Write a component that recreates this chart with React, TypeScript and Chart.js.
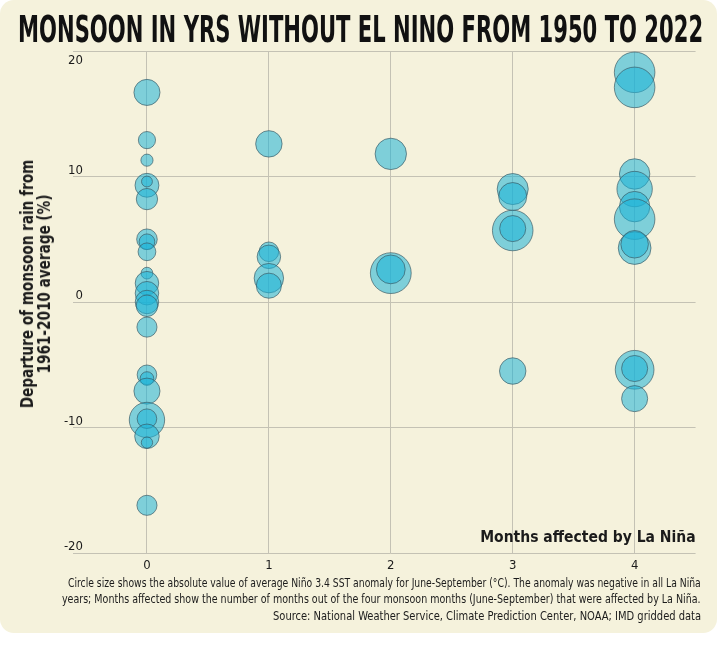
import React, { useEffect, useLayoutEffect, useRef, useState } from 'react';
import { Chart, registerables } from 'chart.js';

Chart.register(...registerables);

// ---------- texts ----------
const TITLE = 'MONSOON IN YRS WITHOUT EL NINO FROM 1950 TO 2022';
const Y_TITLE = ['Departure of monsoon rain from', '1961-2010 average (%)'];
const X_TITLE = 'Months affected by La Niña';
const NOTES = [
  'Circle size shows the absolute value of average Niño 3.4 SST anomaly for June-September (°C). The anomaly was negative in all La Niña',
  'years; Months affected show the number of months out of the four monsoon months (June-September) that were affected by La Niña.',
  'Source: National Weather Service, Climate Prediction Center, NOAA; IMD gridded data',
];

// ---------- axes ----------
const monthCategories = [0, 1, 2, 3, 4];
const yTickValues = [-20, -10, 0, 10, 20];

// ---------- data (one entry per year) ----------
// months of June-September affected by La Niña
const monthsAffected = [
  0, 0, 0, 0, 0, 0, 0, 0, 0, 0, 0, 0, 0, 0, 0, 0, 0, 0, 0, 0, 0, 0, 0,
  1, 1, 1, 1, 1,
  2, 2, 2,
  3, 3, 3, 3, 3,
  4, 4, 4, 4, 4, 4, 4, 4, 4, 4, 4,
];
// departure of monsoon rain from 1961-2010 average (%)
const rainDeparture = [
  16.7, 12.9, 11.3, 9.3, 9.6, 8.2, 5.0, 4.8, 4.0, 2.3, 1.5, 0.7, 0.0, -0.3, -2.0, -5.8, -6.1, -7.1, -9.4, -9.3, -10.7, -11.2, -16.2,
  12.6, 4.0, 3.6, 1.9, 1.3,
  11.8, 2.3, 2.6,
  9.0, 8.4, 5.7, 5.85, -5.5,
  18.3, 17.1, 10.2, 9.0, 7.6, 6.6, 4.3, 4.6, -5.4, -5.3, -7.7,
];
// absolute value of average Niño 3.4 SST anomaly, June-September (°C)
const sstAnomaly = [
  0.69, 0.30, 0.15, 0.58, 0.12, 0.46, 0.43, 0.25, 0.32, 0.14, 0.56, 0.56, 0.56, 0.47, 0.41, 0.39, 0.19, 0.69, 1.27, 0.39, 0.61, 0.13, 0.41,
  0.71, 0.39, 0.56, 0.88, 0.64,
  1.00, 1.69, 0.84,
  0.98, 0.80, 1.67, 0.69, 0.71,
  1.67, 1.67, 0.94, 1.27, 0.94, 1.67, 1.09, 0.77, 1.52, 0.69, 0.69,
];

// ---------- style ----------
const W = 717;
const H = 633;
const BG = '#f5f2dc';
const GRID = '#c4c2b4';
const FILL = 'rgba(28,178,215,0.55)';
const STROKE = 'rgba(55,85,95,0.65)';
const TEXT = '#1b1b1b';
const NARROW = "'Liberation Sans Narrow', 'DejaVu Sans Condensed', 'Arial Narrow', sans-serif";
const RADIUS_PER_SQRT_DEG = 15.7; // bubble area proportional to |anomaly|

function FitLine(props: {
  text: string;
  width: number;
  anchor: 'left' | 'right';
  style: React.CSSProperties;
}) {
  const { text, width, anchor, style } = props;
  const ref = useRef<HTMLSpanElement>(null);
  const [scale, setScale] = useState(1);
  useLayoutEffect(() => {
    const measure = () => {
      const el = ref.current;
      if (el && el.offsetWidth) setScale(width / el.offsetWidth);
    };
    measure();
    if ((document as any).fonts) (document as any).fonts.ready.then(measure);
  }, [text, width]);
  return (
    <span
      ref={ref}
      style={{
        position: 'absolute',
        whiteSpace: 'nowrap',
        transform: `scaleX(${scale})`,
        transformOrigin: anchor === 'right' ? 'right center' : 'left center',
        ...style,
      }}
    >
      {text}
    </span>
  );
}

function RotatedTitle(props: { lines: string[]; length: number; cx: number; cy: number }) {
  const { lines, length, cx, cy } = props;
  const ref = useRef<HTMLDivElement>(null);
  const [scale, setScale] = useState(1);
  useLayoutEffect(() => {
    const measure = () => {
      const el = ref.current;
      if (!el) return;
      const first = el.firstElementChild?.firstElementChild as HTMLElement | null;
      if (first && first.offsetWidth) setScale(length / first.offsetWidth);
    };
    measure();
    if ((document as any).fonts) (document as any).fonts.ready.then(measure);
  }, [lines, length]);
  return (
    <div
      ref={ref}
      style={{
        position: 'absolute',
        left: cx,
        top: cy,
        transform: `translate(-50%, -50%) rotate(-90deg) scaleX(${scale})`,
        fontFamily: NARROW,
        fontWeight: 'bold',
        fontSize: 17,
        lineHeight: '17px',
        color: TEXT,
        textAlign: 'center',
        whiteSpace: 'nowrap',
      }}
    >
      {lines.map((l, i) => (
        <div key={i} style={{ display: 'block' }}>
          <span style={{ display: 'inline-block' }}>{l}</span>
        </div>
      ))}
    </div>
  );
}

export default function App() {
  const canvasRef = useRef<HTMLCanvasElement>(null);

  useEffect(() => {
    const canvas = canvasRef.current;
    if (!canvas) return;
    const points = monthsAffected.map((m, i) => ({
      x: m,
      y: rainDeparture[i],
      r: RADIUS_PER_SQRT_DEG * Math.sqrt(sstAnomaly[i]),
    }));
    const tickFont = { family: NARROW, size: 13 };
    const chart = new Chart(canvas, {
      type: 'bubble',
      data: {
        datasets: [
          {
            data: points,
            backgroundColor: FILL,
            borderColor: STROKE,
            borderWidth: 1,
            hoverRadius: 0,
            clip: false,
          } as any,
        ],
      },
      options: {
        animation: false,
        responsive: false,
        events: [],
        layout: { padding: { left: 0, right: 18.5, top: 51, bottom: 40 } },
        plugins: {
          legend: { display: false },
          tooltip: { enabled: false },
        },
        scales: {
          x: {
            type: 'linear',
            min: -0.5,
            max: 4.5,
            afterBuildTicks: (axis: any) => {
              axis.ticks = monthCategories.map((v) => ({ value: v }));
            },
            afterFit: (axis: any) => {
              axis.height = 40;
            },
            grid: { color: GRID, lineWidth: 1, drawTicks: false },
            border: { display: false },
            ticks: {
              font: tickFont,
              color: TEXT,
              padding: 5,
              callback: (v: any) => String(v),
            },
            title: {
              display: true,
              text: X_TITLE,
              align: 'end',
              color: TEXT,
              font: { family: NARROW, size: 15.5, weight: 'bold' },
              padding: { top: 0, bottom: 45.7 },
            },
          },
          y: {
            type: 'linear',
            min: -20,
            max: 20,
            afterBuildTicks: (axis: any) => {
              axis.ticks = yTickValues.map((v) => ({ value: v }));
            },
            afterFit: (axis: any) => {
              axis.width = 86;
            },
            grid: { color: GRID, lineWidth: 1, drawTicks: true, tickLength: 13 },
            border: { display: false },
            ticks: {
              font: tickFont,
              color: TEXT,
              padding: -10,
              labelOffset: -6,
              callback: (v: any) => (v === 20 ? ['', '', '20'] : String(v)),
            },
          },
        },
      } as any,
    });
    return () => chart.destroy();
  }, []);

  return (
    <div
      style={{
        position: 'absolute',
        left: 0,
        top: 0,
        width: W,
        height: H,
        background: BG,
        borderRadius: 14,
        overflow: 'hidden',
        fontFamily: NARROW,
        color: TEXT,
      }}
    >
      <canvas
        ref={canvasRef}
        width={W}
        height={H}
        style={{ position: 'absolute', left: 0, top: 0, width: W, height: H }}
      />
      <FitLine
        text={TITLE}
        width={685}
        anchor="left"
        style={{ left: 18, top: 10, fontSize: 38, lineHeight: '38px', fontWeight: 'bold', color: '#111' }}
      />
      <RotatedTitle lines={Y_TITLE} length={248} cx={36} cy={284} />
      <FitLine text={NOTES[0]} width={633} anchor="right" style={{ right: 16, top: 575, fontSize: 13, lineHeight: '16px' }} />
      <FitLine text={NOTES[1]} width={639} anchor="right" style={{ right: 16, top: 591, fontSize: 13, lineHeight: '16px' }} />
      <FitLine text={NOTES[2]} width={428} anchor="right" style={{ right: 16, top: 608, fontSize: 13, lineHeight: '16px' }} />
    </div>
  );
}
